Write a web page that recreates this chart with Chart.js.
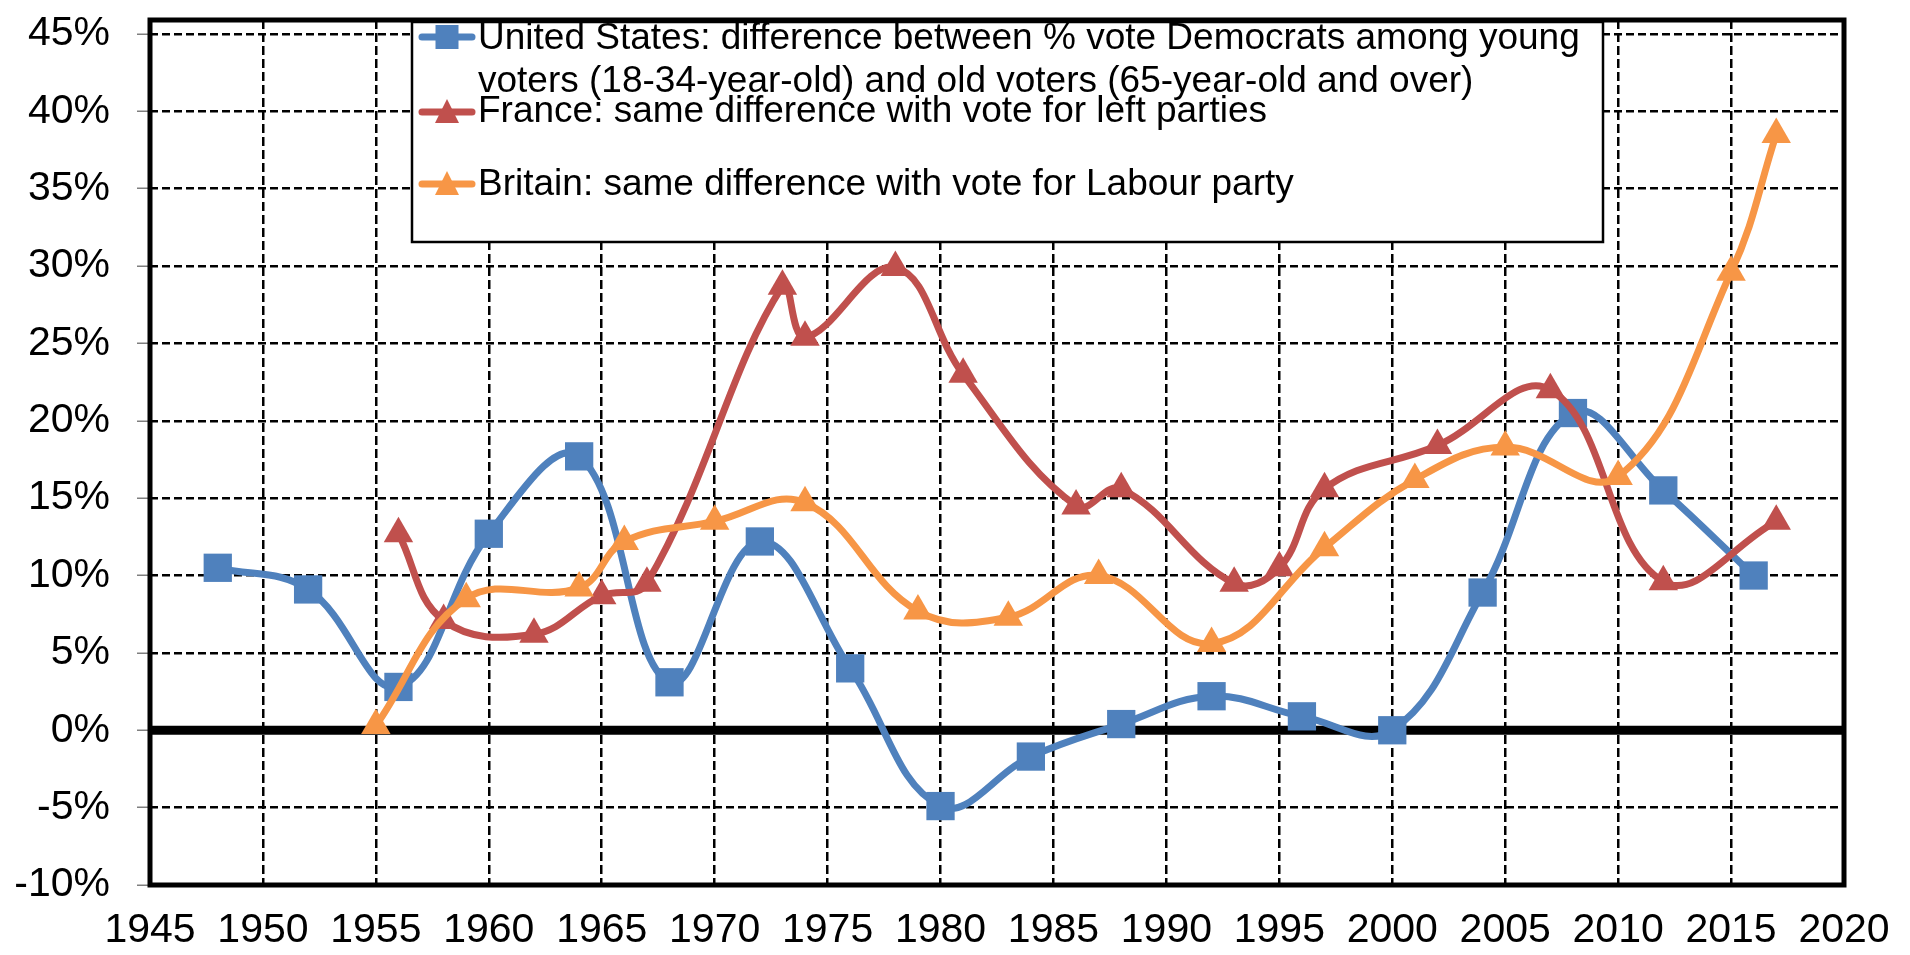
<!DOCTYPE html>
<html><head><meta charset="utf-8">
<script src="https://cdn.jsdelivr.net/npm/chart.js@4.4.1/dist/chart.umd.min.js"></script>
<style>html,body{margin:0;padding:0;background:#fff;}canvas{display:block;}</style>
</head><body>
<canvas id="c" width="1910" height="955"></canvas>
<script>
// ---- data ----
const usYears = [1948,1952,1956,1960,1964,1968,1972,1976,1980,1984,1988,1992,1996,2000,2004,2008,2012,2016];
const usValues = [10.5,9.1,2.8,12.7,17.7,3.1,12.2,4.0,-4.9,-1.7,0.4,2.2,0.9,0.0,8.9,20.5,15.5,10.0];
const frYears = [1956,1958,1962,1965,1967,1973,1974,1978,1981,1986,1988,1993,1995,1997,2002,2007,2012,2017];
const frValues = [12.7,7.1,6.2,8.7,9.5,28.7,25.4,29.9,23.0,14.5,15.6,9.5,10.5,15.6,18.4,22.0,9.6,13.5];
const brYears = [1955,1959,1964,1966,1970,1974,1979,1983,1987,1992,1997,2001,2005,2010,2015,2017];
const brValues = [0.3,8.5,9.2,12.2,13.5,14.7,7.7,7.3,10.0,5.6,11.8,16.2,18.3,16.4,29.6,38.5];
const xTicks = [1945,1950,1955,1960,1965,1970,1975,1980,1985,1990,1995,2000,2005,2010,2015,2020];
const yTicks = [-10,-5,0,5,10,15,20,25,30,35,40,45];
const legendLabels = [
  ["United States: difference between % vote Democrats among young", "voters (18-34-year-old) and old voters (65-year-old and over)"],
  ["France: same difference with vote for left parties"],
  ["Britain: same difference with vote for Labour party"]
];

const BLUE = '#4F81BD', RED = '#C0504D', ORANGE = '#F79646';
const FONT = "'Liberation Sans', Arial, Helvetica, sans-serif";
const pts = (xs, ys) => xs.map((x, i) => ({x: x, y: ys[i]}));

const framePlugin = {
  id: 'frame',
  beforeDatasetsDraw(chart) {
    const {ctx, chartArea: a, scales: {y}} = chart;
    ctx.save();
    ctx.strokeStyle = '#000';
    const y0 = y.getPixelForValue(0);
    ctx.lineWidth = 9;
    ctx.beginPath(); ctx.moveTo(a.left, y0); ctx.lineTo(a.right, y0); ctx.stroke();
    ctx.lineWidth = 5;
    ctx.strokeRect(a.left, a.top, a.right - a.left, a.bottom - a.top);
    ctx.restore();
  }
};

function drawMarker(ctx, style, x, y, color) {
  ctx.fillStyle = color;
  ctx.beginPath();
  if (style === 'rect') {
    ctx.rect(x - 11.5, y - 12, 23, 24);
  } else {
    ctx.moveTo(x, y - 13);
    ctx.lineTo(x + 12, y + 11);
    ctx.lineTo(x - 12, y + 11);
    ctx.closePath();
  }
  ctx.fill();
}

const legendPlugin = {
  id: 'boxLegend',
  afterDraw(chart) {
    const ctx = chart.ctx;
    const bx = 412, by = 22, bw = 1191, bh = 220;
    ctx.save();
    ctx.fillStyle = '#fff';
    ctx.fillRect(bx, by, bw, bh);
    ctx.strokeStyle = '#000';
    ctx.lineWidth = 2.5;
    ctx.strokeRect(bx, by, bw, bh);
    const symY = [37, 112, 184];
    const base = [[49, 92], [122], [195]];
    chart.data.datasets.forEach((ds, i) => {
      ctx.strokeStyle = ds.borderColor;
      ctx.lineWidth = 7;
      ctx.lineCap = 'round';
      ctx.beginPath(); ctx.moveTo(422, symY[i]); ctx.lineTo(472, symY[i]); ctx.stroke();
      drawMarker(ctx, ds.pointStyle, 447, symY[i], ds.borderColor);
      ctx.fillStyle = '#000';
      ctx.font = '37px ' + FONT;
      ctx.textAlign = 'left';
      ctx.textBaseline = 'alphabetic';
      legendLabels[i].forEach((t, k) => ctx.fillText(t, 478, base[i][k]));
    });
    ctx.restore();
  }
};

new Chart(document.getElementById('c'), {
  type: 'line',
  data: {
    datasets: [
      {label: legendLabels[0].join(' '), data: pts(usYears, usValues), borderColor: BLUE, backgroundColor: BLUE,
       pointStyle: 'rect', pointRadius: 20, pointBorderWidth: 0, pointBackgroundColor: BLUE,
       borderWidth: 7, tension: 0.4, order: 3, fill: false, borderCapStyle: 'round', borderJoinStyle: 'round'},
      {label: legendLabels[1][0], data: pts(frYears, frValues), borderColor: RED, backgroundColor: RED,
       pointStyle: 'triangle', pointRadius: 17, pointBorderWidth: 0, pointBackgroundColor: RED,
       borderWidth: 7, tension: 0.4, order: 2, fill: false, borderCapStyle: 'round', borderJoinStyle: 'round'},
      {label: legendLabels[2][0], data: pts(brYears, brValues), borderColor: ORANGE, backgroundColor: ORANGE,
       pointStyle: 'triangle', pointRadius: 17, pointBorderWidth: 0, pointBackgroundColor: ORANGE,
       borderWidth: 7, tension: 0.4, order: 1, fill: false, borderCapStyle: 'round', borderJoinStyle: 'round'}
    ]
  },
  options: {
    responsive: false,
    animation: false,
    devicePixelRatio: 1,
    layout: {padding: {left: 0, top: 10, right: 66, bottom: 0}},
    plugins: {legend: {display: false}, tooltip: {enabled: false}},
    scales: {
      x: {
        type: 'linear', min: 1945, max: 2020,
        afterBuildTicks: s => { s.ticks = xTicks.map(v => ({value: v})); },
        afterFit: s => { s.height = 70; s.paddingLeft = 0; s.paddingRight = 0; },
        ticks: {autoSkip: false, maxRotation: 0, minRotation: 0, padding: 21, color: '#000',
                font: {family: FONT, size: 41}, callback: v => String(v)},
        grid: {color: '#000', lineWidth: 2.5, drawTicks: false},
        border: {display: false, dash: [9, 4]}
      },
      y: {
        type: 'linear', min: -10, max: 45.9,
        afterBuildTicks: s => { s.ticks = yTicks.map(v => ({value: v})); },
        afterFit: s => { s.width = 150; s.paddingTop = 0; s.paddingBottom = 0; },
        ticks: {padding: 27, color: '#000', font: {family: FONT, size: 41}, callback: v => v + '%'},
        grid: {color: '#000', lineWidth: 2.5, drawTicks: true, tickLength: 13, tickColor: '#7f7f7f', tickWidth: 1.5, tickBorderDash: []},
        border: {display: false, dash: [8, 4]}
      }
    }
  },
  plugins: [framePlugin, legendPlugin]
});
</script>
</body></html>
